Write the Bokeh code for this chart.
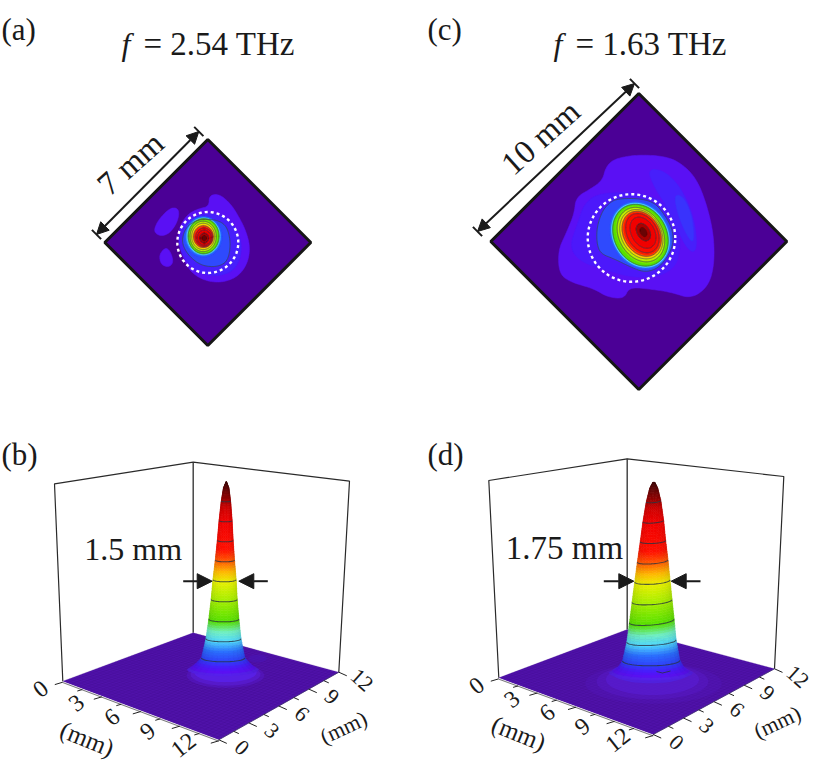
import numpy as np

from bokeh.core.properties import value
from bokeh.embed import file_html
from bokeh.models import Arrow, NormalHead, Range1d
from bokeh.plotting import figure
from bokeh.resources import INLINE

# colour scale of the maps and surfaces, normalised amplitude -> colour
scale_levels = [0.00, 0.03, 0.05, 0.07, 0.10, 0.15, 0.20, 0.25, 0.30, 0.40, 0.50, 0.55, 0.60, 0.66, 0.80, 0.87, 0.92, 1.00]
scale_colors = ["#4b0096", "#5426e8", "#5a10f4", "#4c18fb", "#3040fc", "#2a70ff", "#50d8ff", "#70f0c0", "#55e000",
                "#a0ee00", "#e8f000", "#ffb800", "#ff6000", "#ff1000", "#f00000", "#d00000", "#900000", "#400808"]

# panel (a), mm from the middle of the scan, y up
a_halo_x = [0.06, 0.54, 1.10, 1.50, 1.82, 2.03, 1.90, 1.42, 0.62, -0.18, -0.81, -1.13, -1.37, -1.42, -1.05, -0.49, 0.06]
a_halo_y = [2.25, 2.33, 1.85, 1.21, 0.57, -0.22, -1.02, -1.66, -1.93, -1.82, -1.42, -0.86, -0.14, 0.57, 1.29, 1.61, 1.72]
a_island1_x = [-2.57, -2.33, -1.77, -1.37, -1.42, -1.77, -2.17, -2.49]
a_island1_y = [0.65, 1.13, 1.69, 1.61, 1.05, 0.49, 0.30, 0.41]
a_island2_x = [-2.30, -2.01, -1.77, -1.64, -1.85, -2.17, -2.30]
a_island2_y = [-0.54, -0.22, -0.46, -0.94, -1.18, -1.10, -0.86]
a_mid_x = [-0.10, 0.78, 1.42, 1.66, 1.42, 0.78, -0.10, -0.81, -1.29, -1.42, -1.21]
a_mid_y = [1.45, 1.29, 0.57, -0.22, -1.18, -1.58, -1.58, -1.18, -0.46, 0.26, 0.97]
a_c10_x = [-0.10, 0.54, 0.94, 1.10, 0.97, 0.54, -0.10, -0.57, -1.05, -1.26, -1.05, -0.57]
a_c10_y = [1.13, 1.05, 0.73, -0.06, -0.86, -1.15, -1.15, -0.94, -0.46, 0.10, 0.73, 1.05]
a_ring_level = [0.13, 0.18, 0.24, 0.30, 0.35, 0.40, 0.45, 0.50, 0.55, 0.60, 0.65, 0.70, 0.75, 0.80, 0.85, 0.90, 0.96]
a_ring_cx = [-0.22, -0.21, -0.20, -0.20, -0.21, -0.22, -0.22, -0.22, -0.21, -0.21, -0.20, -0.18, -0.18, -0.17, -0.17, -0.17, -0.17]
a_ring_cy = [0.28, 0.29, 0.30, 0.30, 0.30, 0.29, 0.29, 0.29, 0.28, 0.28, 0.27, 0.25, 0.24, 0.23, 0.22, 0.21, 0.21]
a_ring_rx = [0.90, 0.82, 0.77, 0.74, 0.67, 0.63, 0.59, 0.55, 0.51, 0.47, 0.44, 0.40, 0.36, 0.33, 0.27, 0.21, 0.12]
a_ring_ry = [0.97, 0.90, 0.87, 0.84, 0.78, 0.73, 0.68, 0.63, 0.57, 0.52, 0.48, 0.44, 0.40, 0.36, 0.30, 0.23, 0.13]

# panel (c)
c_halo_x = [-1.18, -0.06, 1.37, 2.17, 2.81, 3.29, 3.60, 3.60, 3.29, 2.49, 1.53, 0.41, -0.46, -0.70, -1.50, -2.14, -3.25, -3.81, -3.86, -3.49, -3.09, -3.01, -2.30, -1.74, -1.58]
c_halo_y = [3.96, 4.16, 4.07, 3.64, 2.92, 1.64, 0.21, -1.23, -2.19, -2.74, -2.42, -2.26, -2.19, -2.74, -2.66, -2.26, -1.95, -1.55, -0.43, 0.37, 1.32, 2.12, 2.52, 2.92, 3.56]
c_mid_x = [-1.98, -0.70, 0.57, 1.37, 1.85, 2.01, 1.77, 0.89, -0.38, -1.50, -2.78, -3.33, -2.93, -2.62]
c_mid_y = [2.28, 2.36, 2.20, 1.72, 0.85, -0.27, -1.23, -1.71, -1.71, -1.39, -0.99, -0.27, 0.85, 1.80]
c_streak_x = [0.41, 1.21, 2.01, 2.65, 2.81, 2.41, 1.85, 1.37, 0.73]
c_streak_y = [3.48, 3.40, 2.60, 1.16, -0.43, -0.51, 0.53, 1.64, 2.60]
c_streak2_x = [1.69, 2.17, 2.57, 2.65, 2.33, 1.85]
c_streak2_y = [2.28, 2.12, 1.16, -0.11, 0.21, 1.32]
c_c10_x = [-1.02, -0.06, 0.73, 1.21, 1.61, 1.66, 1.37, 0.89, 0.26, -0.38, -1.18, -1.82, -2.01, -2.01, -1.74, -1.37]
c_c10_y = [2.04, 2.07, 1.88, 1.32, 0.61, -0.11, -0.75, -1.31, -1.47, -1.23, -0.83, -0.59, -0.11, 0.69, 1.48, 1.88]
c_ring_level = [0.14, 0.20, 0.30, 0.35, 0.40, 0.45, 0.50, 0.55, 0.60, 0.65, 0.70, 0.80, 0.90, 0.96]
c_ring_cx = [0.08, 0.08, 0.08, 0.09, 0.10, 0.11, 0.12, 0.13, 0.14, 0.15, 0.17, 0.20, 0.22, 0.22]
c_ring_cy = [0.30, 0.30, 0.30, 0.32, 0.33, 0.34, 0.35, 0.36, 0.37, 0.38, 0.40, 0.42, 0.45, 0.45]
c_ring_major = [1.68, 1.61, 1.55, 1.45, 1.38, 1.32, 1.25, 1.20, 1.14, 1.08, 1.00, 0.80, 0.45, 0.24]
c_ring_minor = [1.38, 1.31, 1.25, 1.10, 1.05, 1.00, 0.95, 0.90, 0.86, 0.80, 0.72, 0.55, 0.30, 0.15]
c_ring_angle = -60

# surfaces (b) and (d): amplitude -> radius of the beam in mm
surface_levels = [0.03, 0.06, 0.10, 0.20, 0.30, 0.40, 0.50, 0.60, 0.70, 0.80, 0.90, 0.97, 1.00]
b_radius = [2.30, 1.83, 1.40, 1.13, 0.97, 0.84, 0.75, 0.62, 0.51, 0.42, 0.30, 0.17, 0.01]
d_radius = [2.70, 2.15, 1.85, 1.59, 1.44, 1.29, 1.14, 0.99, 0.82, 0.67, 0.47, 0.25, 0.05]
b_tilt = [0, 0, 0, 0, 0, 0, 0, 0, 0, 0, 0, 0, 0]
d_tilt = [0, 0, 0.01, 0.05, 0.085, 0.07, 0.06, 0.08, 0.05, 0.08, 0.09, 0, 0]
contour_levels = [0.10, 0.20, 0.30, 0.40, 0.50, 0.60, 0.70, 0.80, 0.90]
tick_values = [0, 1.5, 3, 4.5, 6, 7.5, 9, 10.5, 12]
tick_labels = ["0", "3", "6", "9", "12"]
tick_label_values = [0, 3, 6, 9, 12]
b_peak_mm = (6.8, 6.9)
d_peak_mm = (7.4, 5.5)

SERIF = value("Liberation Serif")
INK = "#1a1a1a"
MM = 20.9  # map scale, px per mm
SURF_MM = 15.5


def hex_rgb(c):
    return [int(c[i:i + 2], 16) for i in (1, 3, 5)]


scale_rgb = np.array([hex_rgb(c) for c in scale_colors], dtype=float)


def level_color(level, shade=0.0):
    rgb = np.array([np.interp(level, scale_levels, scale_rgb[:, i]) for i in range(3)])
    rgb = rgb * (1 - shade)
    return "#%02x%02x%02x" % tuple(int(round(v)) for v in rgb)


p = figure(width=823, height=765, x_range=Range1d(0, 823), y_range=Range1d(765, 0),
           toolbar_location=None, output_backend="svg", min_border=0, outline_line_color=None)
p.xaxis.visible = False
p.yaxis.visible = False
p.xgrid.visible = False
p.ygrid.visible = False


def label(x, y, text, size, angle=0, align="center", baseline="middle", style="normal"):
    p.text([x], [y], text=[text], text_font=SERIF, text_font_size=size, angle=angle, angle_units="deg",
           text_align=align, text_baseline=baseline, text_color=INK, text_font_style=style)


def to_px(mid, x, y):
    return mid[0] + np.asarray(x) * MM, mid[1] - np.asarray(y) * MM


def ellipse_mm(cx, cy, rx, ry, angle=0):
    t = np.linspace(0, 2 * np.pi, 73)
    th = np.deg2rad(angle)
    ex, ey = rx * np.cos(t), ry * np.sin(t)
    return cx + ex * np.cos(th) - ey * np.sin(th), cy + ex * np.sin(th) + ey * np.cos(th)


def rounded(x, y, passes=3):
    # corner cutting, only so the outlines do not look like polygons
    x, y = np.asarray(x, dtype=float), np.asarray(y, dtype=float)
    for _ in range(passes):
        nx, ny = np.roll(x, -1), np.roll(y, -1)
        x = np.column_stack((0.75 * x + 0.25 * nx, 0.25 * x + 0.75 * nx)).ravel()
        y = np.column_stack((0.75 * y + 0.25 * ny, 0.25 * y + 0.75 * ny)).ravel()
    return x, y


def fill_mm(mid, x, y, level):
    px, py = to_px(mid, *rounded(x, y))
    p.patch(px, py, fill_color=level_color(level), line_color=level_color(level), line_width=0.5)


def contour_mm(mid, x, y):
    px, py = to_px(mid, *rounded(x, y))
    p.line(np.append(px, px[0]), np.append(py, py[0]), line_color="#3c4050", line_width=0.9, line_alpha=0.75)


def map_frame(mid, half):
    xs = [mid[0], mid[0] + half, mid[0], mid[0] - half]
    ys = [mid[1] - half, mid[1], mid[1] + half, mid[1]]
    return xs, ys


def dim_arrow(x0, y0, x1, y1):
    p.add_layout(Arrow(start=NormalHead(size=12, fill_color=INK, line_color=INK),
                       end=NormalHead(size=12, fill_color=INK, line_color=INK),
                       x_start=x0, y_start=y0, x_end=x1, y_end=y1, line_color=INK, line_width=2))
    for x, y in ((x0, y0), (x1, y1)):
        p.line([x - 4.6, x + 4.6], [y - 4.6, y + 4.6], line_color=INK, line_width=2)


def width_arrow(x0, x1, y):
    p.add_layout(Arrow(end=NormalHead(size=15, fill_color=INK, line_color=INK),
                       x_start=x0, y_start=y, x_end=x1, y_end=y, line_color=INK, line_width=2))


# ---- (a) map
mid_a = (207.3, 242)
fx, fy = map_frame(mid_a, 103)
p.patch(fx, fy, fill_color="#4b0096", line_color=None)
fill_mm(mid_a, a_halo_x, a_halo_y, 0.05)
fill_mm(mid_a, a_island1_x, a_island1_y, 0.05)
fill_mm(mid_a, a_island2_x, a_island2_y, 0.05)
fill_mm(mid_a, a_mid_x, a_mid_y, 0.075)
fill_mm(mid_a, a_c10_x, a_c10_y, 0.11)
a_rings = []
for lev, cx, cy, rx, ry in zip(a_ring_level, a_ring_cx, a_ring_cy, a_ring_rx, a_ring_ry):
    ex, ey = ellipse_mm(cx, cy, rx, ry)
    fill_mm(mid_a, ex, ey, lev)
    a_rings.append((lev, ex, ey))
contour_mm(mid_a, a_c10_x, a_c10_y)
for lev, ex, ey in a_rings:
    if lev in contour_levels:
        contour_mm(mid_a, ex, ey)
cx, cy = ellipse_mm(0, 0, 30.5 / MM, 30.5 / MM)
px, py = to_px(mid_a, cx, cy)
p.line(px, py, line_color="white", line_width=2.4, line_dash="3 3")
p.patch(fx, fy, fill_color=None, line_color="#161616", line_width=3)

# ---- (c) map
mid_c = (638.3, 241)
fx, fy = map_frame(mid_c, 148)
p.patch(fx, fy, fill_color="#4b0096", line_color=None)
fill_mm(mid_c, c_halo_x, c_halo_y, 0.05)
fill_mm(mid_c, c_mid_x, c_mid_y, 0.07)
fill_mm(mid_c, c_streak_x, c_streak_y, 0.075)
fill_mm(mid_c, c_streak2_x, c_streak2_y, 0.09)
fill_mm(mid_c, c_c10_x, c_c10_y, 0.11)
c_rings = []
for lev, cx, cy, ra, rb in zip(c_ring_level, c_ring_cx, c_ring_cy, c_ring_major, c_ring_minor):
    ex, ey = ellipse_mm(cx, cy, ra, rb, c_ring_angle)
    fill_mm(mid_c, ex, ey, lev)
    c_rings.append((lev, ex, ey))
contour_mm(mid_c, c_c10_x, c_c10_y)
for lev, ex, ey in c_rings:
    if lev in contour_levels and lev > 0.2:
        contour_mm(mid_c, ex, ey)
cx, cy = ellipse_mm((631 - mid_c[0]) / MM, (mid_c[1] - 237.5) / MM, 43.8 / MM, 43.8 / MM)
px, py = to_px(mid_c, cx, cy)
p.line(px, py, line_color="white", line_width=2.4, line_dash="3 3")
p.patch(fx, fy, fill_color=None, line_color="#161616", line_width=3)


# ---- surfaces
def floor_pt(box, a, c):
    s, t = np.asarray(a, dtype=float) / 12, np.asarray(c, dtype=float) / 12
    L, F, R, B = box["L"], box["F"], box["R"], box["B"]
    x = L[0] * (1 - s) * (1 - t) + F[0] * s * (1 - t) + R[0] * s * t + B[0] * (1 - s) * t
    y = L[1] * (1 - s) * (1 - t) + F[1] * s * (1 - t) + R[1] * s * t + B[1] * (1 - s) * t
    return x, y


def draw_box(box):
    p.line([box["L"][0], box["TL"][0], box["TB"][0], box["TR"][0], box["R"][0]],
           [box["L"][1], box["TL"][1], box["TB"][1], box["TR"][1], box["R"][1]],
           line_color="#2a2a2a", line_width=1.2)
    p.line([box["TB"][0], box["B"][0]], [box["TB"][1], box["B"][1]], line_color="#3a3a3a", line_width=1.4)
    names = ["L", "F", "R", "B"]
    p.patch([box[n][0] for n in names], [box[n][1] for n in names], fill_color="#5012aa", line_color=None)
    mesh = np.linspace(0, 12, 41)
    for m in mesh:
        gx, gy = floor_pt(box, [m, m], [0, 12])
        p.line(gx, gy, line_color="#3a0a88", line_width=0.4, line_alpha=0.5)
        gx, gy = floor_pt(box, [0, 12], [m, m])
        p.line(gx, gy, line_color="#3a0a88", line_width=0.4, line_alpha=0.5)

    # white rim and ticks on the two front edges
    p.line([box["L"][0], box["F"][0]], [box["L"][1] + 0.8, box["F"][1] + 0.8], line_color="#e8e4f0", line_width=1)
    p.line([box["L"][0], box["F"][0]], [box["L"][1] + 1.4, box["F"][1] + 1.4], line_color="#444444", line_width=0.7)
    p.line([box["F"][0], box["R"][0]], [box["F"][1], box["R"][1]], line_color="#3a2a70", line_width=0.8)
    for v in tick_values:
        ln = 8 if v in tick_label_values else 5
        tx, ty = floor_pt(box, v, 0)
        p.line([tx, tx - ln], [ty + 1, ty + 1 + ln * 0.3], line_color="#222222", line_width=1)
        tx, ty = floor_pt(box, 12, v)
        p.line([tx, tx + ln], [ty, ty + ln * 0.45], line_color="#222222", line_width=1)
    for v, txt in zip(tick_label_values, tick_labels):
        tx, ty = floor_pt(box, v, 0)
        label(float(tx) - 22 - 1.1 * v, float(ty) + 8 - 0.2 * v, txt, "24px", angle=38)
        tx, ty = floor_pt(box, 12, v)
        label(float(tx) + 23, float(ty) + 8, txt, "22px", angle=-42)


def ring_pt(base, height, lean, sag, tilts, level, radius, ang):
    r = radius * SURF_MM
    tilt = np.interp(level, surface_levels, tilts)
    x = base[0] + lean * level + r * np.cos(ang)
    y = base[1] - height * level - sag * r + sag * r * np.sin(ang) - tilt * r * np.cos(ang)
    return x, y


def draw_surface(base, height, lean, radii, sag, tilts):
    step = 0.0125
    segs = 12
    xs, ys, cols = [], [], []
    lev = surface_levels[0]
    while lev < 1.0 - 1e-6:
        top = min(lev + step, 1.0)
        r0, r1 = np.interp(lev, surface_levels, radii), np.interp(top, surface_levels, radii)
        for i in range(segs):
            a0, a1 = np.pi * (1 - i / segs), np.pi * (1 - (i + 1) / segs)
            x0, y0 = ring_pt(base, height, lean, sag, tilts, lev, r0, a0)
            x1, y1 = ring_pt(base, height, lean, sag, tilts, lev, r0, a1)
            x2, y2 = ring_pt(base, height, lean, sag, tilts, top, r1, a1)
            x3, y3 = ring_pt(base, height, lean, sag, tilts, top, r1, a0)
            xs.append([x0, x1, x2, x3])
            ys.append([y0, y1, y2, y3])
            cols.append(level_color(lev + step / 2, 0.12 * (1 - np.sin((a0 + a1) / 2))))
        lev = top
    p.patches(xs, ys, fill_color=cols, line_color=cols, line_width=0.6)
    ang = np.linspace(np.pi, 0, 31)
    for cl in contour_levels:
        r = np.interp(cl, surface_levels, radii)
        cxs, cys = ring_pt(base, height, lean, sag, tilts, cl, r, ang)
        p.line(cxs, cys, line_color="#2b3340", line_width=1.1, line_alpha=0.8)


def glow(cx, cy, rx, ry, color, alpha=0.5):
    t = np.linspace(0, 2 * np.pi, 61)
    p.patch(cx + rx * SURF_MM * np.cos(t), cy + ry * SURF_MM * np.sin(t), fill_color=color, line_color=None,
            fill_alpha=alpha)


box_b = dict(L=(62.3, 680.7), F=(218.3, 739.3), R=(338.3, 671.7), B=(192.7, 632.3),
             TL=(54, 483.3), TB=(192.7, 461.7), TR=(349, 480.7))
box_d = dict(L=(498.3, 677.3), F=(652.7, 734), R=(774, 668.3), B=(626.7, 629),
             TL=(488.3, 480), TB=(626.7, 458.3), TR=(783.3, 476))

draw_box(box_b)
bx, by = floor_pt(box_b, *b_peak_mm)
bx, by = float(bx), float(by) + 1.5
glow(225, 675, 2.5, 0.8, "#5618c8", 0.5)
glow(225, 674, 2.25, 0.72, "#5a1ed8", 0.6)
glow(225, 672, 2.0, 0.62, "#5a22f0", 0.7)
glow(257, 658, 0.6, 0.25, "#4a14b4", 0.6)
draw_surface((bx, by), 200, 3.5, b_radius, 0.18, b_tilt)

draw_box(box_d)
dx, dy = floor_pt(box_d, *d_peak_mm)
dx, dy = float(dx), float(dy) + 0.5
glow(653, 683, 4.4, 1.3, "#5418bc", 0.35)
glow(652, 681, 3.6, 1.15, "#5a1ccc", 0.4)
glow(652, 679, 3.0, 1.0, "#5a20dd", 0.45)
glow(650, 672, 2.5, 0.7, "#4a28f0", 0.5)
draw_surface((dx, dy), 204, 3.0, d_radius, 0.18, d_tilt)
p.line([656, 662, 670], [671, 672.5, 670.5], line_color="#2b3340", line_width=1, line_alpha=0.8)

# ---- annotations
width_arrow(182.7, 211.7, 580.7)
width_arrow(267.3, 238.3, 580.7)
width_arrow(603.3, 633.3, 580.7)
width_arrow(700, 670.7, 580.7)
dim_arrow(96, 234, 198.3, 131)
dim_arrow(477, 231, 634, 83)

label(1, 29, "(a)", "31px", align="left", baseline="alphabetic")
label(427, 29, "(c)", "31px", align="left", baseline="alphabetic")
label(1, 454, "(b)", "31px", align="left", baseline="alphabetic")
label(427, 454, "(d)", "31px", align="left", baseline="alphabetic")
label(121, 43, "f", "32px", align="left", baseline="alphabetic", style="italic")
label(143, 43, "= 2.54 THz", "33px", align="left", baseline="alphabetic")
label(553, 43, "f", "32px", align="left", baseline="alphabetic", style="italic")
label(575, 43, "= 1.63 THz", "33px", align="left", baseline="alphabetic")
label(130, 163, "7 mm", "33px", angle=42)
label(540, 137, "10 mm", "33px", angle=42)
label(132.7, 548, "1.5 mm", "32px")
label(564, 547, "1.75 mm", "33px")
label(86.7, 738.3, "(mm)", "25px", angle=-22)
label(343, 727, "(mm)", "22px", angle=25)
label(518.3, 732.7, "(mm)", "25px", angle=-22)
label(776.7, 721.7, "(mm)", "22px", angle=25)

open("out.html", "w").write(file_html(p, INLINE))
